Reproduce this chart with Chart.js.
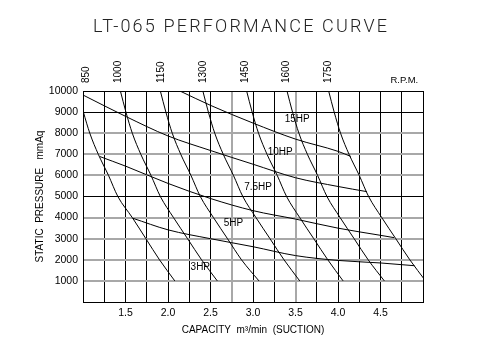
<!DOCTYPE html>
<html>
<head>
<meta charset="utf-8">
<script src="https://cdn.jsdelivr.net/npm/chart.js@4.4.0/dist/chart.umd.min.js"></script>
<style>
html,body{margin:0;padding:0;background:#fff;}
</style>
</head>
<body>
<canvas id="perfChart" width="492" height="354"></canvas>
<script>
// pressures (mmAq) at which the rpm curves were read
const rpmPressure = [10000, 9000, 8000, 7000, 6000, 5000, 4000, 3000, 2000, 1000];
// capacity (m3/min) of each rpm curve at those pressures
const rpm850  = [0.94, 1.005, 1.08, 1.18, 1.30, 1.41, 1.58, 1.74, 1.90, 2.08];
const rpm1000 = [1.44, 1.505, 1.58, 1.68, 1.80, 1.91, 2.065, 2.23, 2.395, 2.58];
const rpm1150 = [1.91, 1.975, 2.05, 2.15, 2.27, 2.38, 2.535, 2.70, 2.865, 3.07];
const rpm1300 = [2.41, 2.475, 2.55, 2.65, 2.77, 2.88, 3.035, 3.20, 3.365, 3.55];
const rpm1450 = [2.925, 2.99, 3.065, 3.165, 3.285, 3.395, 3.55, 3.715, 3.88, 4.06];
const rpm1600 = [3.40, 3.465, 3.54, 3.64, 3.76, 3.87, 4.025, 4.19, 4.355, 4.545];
const rpm1750 = [3.89, 3.955, 4.03, 4.13, 4.25, 4.36, 4.515, 4.68, 4.845, 5.03];
const rpmNames = ['850', '1000', '1150', '1300', '1450', '1600', '1750'];
const rpmLabelX = [1.04, 1.41, 1.92, 2.41, 2.91, 3.39, 3.885];

// power curves (capacity / pressure)
const hp15X = [2.14, 2.5, 3.0, 3.5, 4.0, 4.15];
const hp15Y = [10000, 9320, 8480, 7720, 7140, 6900];
const hp10X = [1.0, 1.5, 2.0, 2.5, 3.0, 3.5, 4.0, 4.34];
const hp10Y = [9810, 8800, 7870, 7180, 6530, 5890, 5475, 5230];
const hp75X = [1.20, 1.5, 2.0, 2.5, 3.0, 3.5, 4.0, 4.5, 4.66];
const hp75Y = [6890, 6440, 5620, 4905, 4330, 3930, 3500, 3160, 3050];
const hp5X = [1.585, 2.0, 2.5, 3.0, 3.5, 4.0, 4.5, 4.9];
const hp5Y = [3970, 3420, 3000, 2620, 2200, 1970, 1850, 1720];

const hpNames = ['15HP', '10HP', '7.5HP', '5HP', '3HP'];
const hpLabelX = [3.52, 3.32, 3.06, 2.77, 2.38];
const hpLabelY = [8660, 7075, 5435, 3730, 1645];

const labelFont = '"Liberation Sans", Arial, sans-serif';

function rpmSet(xs){
    return rpmPressure.map((p, i) => ({x: xs[i], y: p}));
}
function hpSet(xs, ys){
    return xs.map((x, i) => ({x: x, y: ys[i]}));
}
function curve(data){
    return {
        data: data,
        showLine: true,
        borderColor: '#000',
        borderWidth: 1,
        pointRadius: 0,
        cubicInterpolationMode: 'monotone',
        fill: false
    };
}

// text that is not tied to an axis: title, rpm names, R.P.M., power labels
const annotations = {
    id: 'annotations',
    afterDatasetsDraw(chart){
        const ctx = chart.ctx;
        const xs = chart.scales.x, ys = chart.scales.y;
        const top = chart.chartArea.top;
        ctx.save();
        ctx.fillStyle = '#000';
        ctx.font = '10px ' + labelFont;
        ctx.textAlign = 'center';
        ctx.textBaseline = 'middle';
        hpNames.forEach((t, i) => {
            ctx.fillText(t, xs.getPixelForValue(hpLabelX[i]), ys.getPixelForValue(hpLabelY[i]));
        });
        ctx.font = '9.5px ' + labelFont;
        ctx.fillText('R.P.M.', xs.getPixelForValue(4.78), top - 11);

        // rpm names, turned upright above each curve
        ctx.font = '10px "Liberation Sans Narrow", ' + labelFont;
        ctx.textAlign = 'left';
        rpmNames.forEach((t, i) => {
            ctx.save();
            ctx.translate(xs.getPixelForValue(rpmLabelX[i]), top - 8);
            ctx.rotate(-Math.PI / 2);
            ctx.fillText(t, 0, 0);
            ctx.restore();
        });

        // title, spread out like the drawing
        const title = 'LT-065 PERFORMANCE CURVE';
        ctx.font = '300 18px Roboto, "Liberation Sans", sans-serif';
        ctx.fillStyle = '#222';
        const w = ctx.measureText(title).width;
        ctx.letterSpacing = ((294 - w) / (title.length - 1)).toFixed(2) + 'px';
        ctx.textAlign = 'left';
        ctx.fillText(title, 93, 27);
        ctx.restore();
    }
};

const greyX = v => v === 2.75 || v === 3.5;
const blackY = v => v === 0 || v === 5000 || v === 9000 || v === 10000;

new Chart(document.getElementById('perfChart'), {
    type: 'scatter',
    data: {
        datasets: [
            curve(rpmSet(rpm850)), curve(rpmSet(rpm1000)), curve(rpmSet(rpm1150)),
            curve(rpmSet(rpm1300)), curve(rpmSet(rpm1450)), curve(rpmSet(rpm1600)),
            curve(rpmSet(rpm1750)),
            curve(hpSet(hp15X, hp15Y)), curve(hpSet(hp10X, hp10Y)),
            curve(hpSet(hp75X, hp75Y)), curve(hpSet(hp5X, hp5Y))
        ]
    },
    options: {
        responsive: false,
        animation: false,
        devicePixelRatio: 1,
        layout: {padding: {left: 34, right: 69, top: 91, bottom: 18}},
        plugins: {legend: {display: false}, tooltip: {enabled: false}},
        scales: {
            x: {
                type: 'linear',
                position: 'bottom',
                min: 1, max: 5,
                afterFit: s => { s.height = 34; },
                ticks: {
                    stepSize: 0.25,
                    autoSkip: false,
                    maxRotation: 0,
                    padding: 5,
                    color: '#000',
                    font: {family: labelFont, size: 10.5},
                    callback: v => (v > 1 && v < 5 && v % 0.5 === 0) ? v.toFixed(1) : ''
                },
                grid: {
                    drawTicks: false,
                    color: c => greyX(c.tick.value) ? '#a8a8a8' : '#000',
                    lineWidth: c => greyX(c.tick.value) ? 2 : 1
                },
                border: {display: true, color: '#000', width: 1},
                title: {
                    display: true,
                    text: 'CAPACITY  m³/min  (SUCTION)',
                    color: '#000',
                    padding: 0,
                    font: {family: labelFont, size: 10}
                }
            },
            y: {
                min: 0, max: 10000,
                afterFit: s => { s.width = 49; },
                ticks: {
                    stepSize: 1000,
                    padding: 5,
                    color: '#000',
                    font: {family: labelFont, size: 10.5},
                    callback: v => v === 0 ? '' : String(v)
                },
                grid: {
                    drawTicks: false,
                    color: c => blackY(c.tick.value) ? '#000' : '#a8a8a8',
                    lineWidth: c => blackY(c.tick.value) ? 1 : 2
                },
                border: {display: true, color: '#000', width: 1},
                title: {
                    display: true,
                    text: 'STATIC  PRESSURE   mmAq',
                    color: '#000',
                    padding: {top: 0, bottom: 0},
                    align: 'center',
                    font: {family: labelFont, size: 10}
                }
            }
        }
    },
    plugins: [annotations]
});
</script>
</body>
</html>
